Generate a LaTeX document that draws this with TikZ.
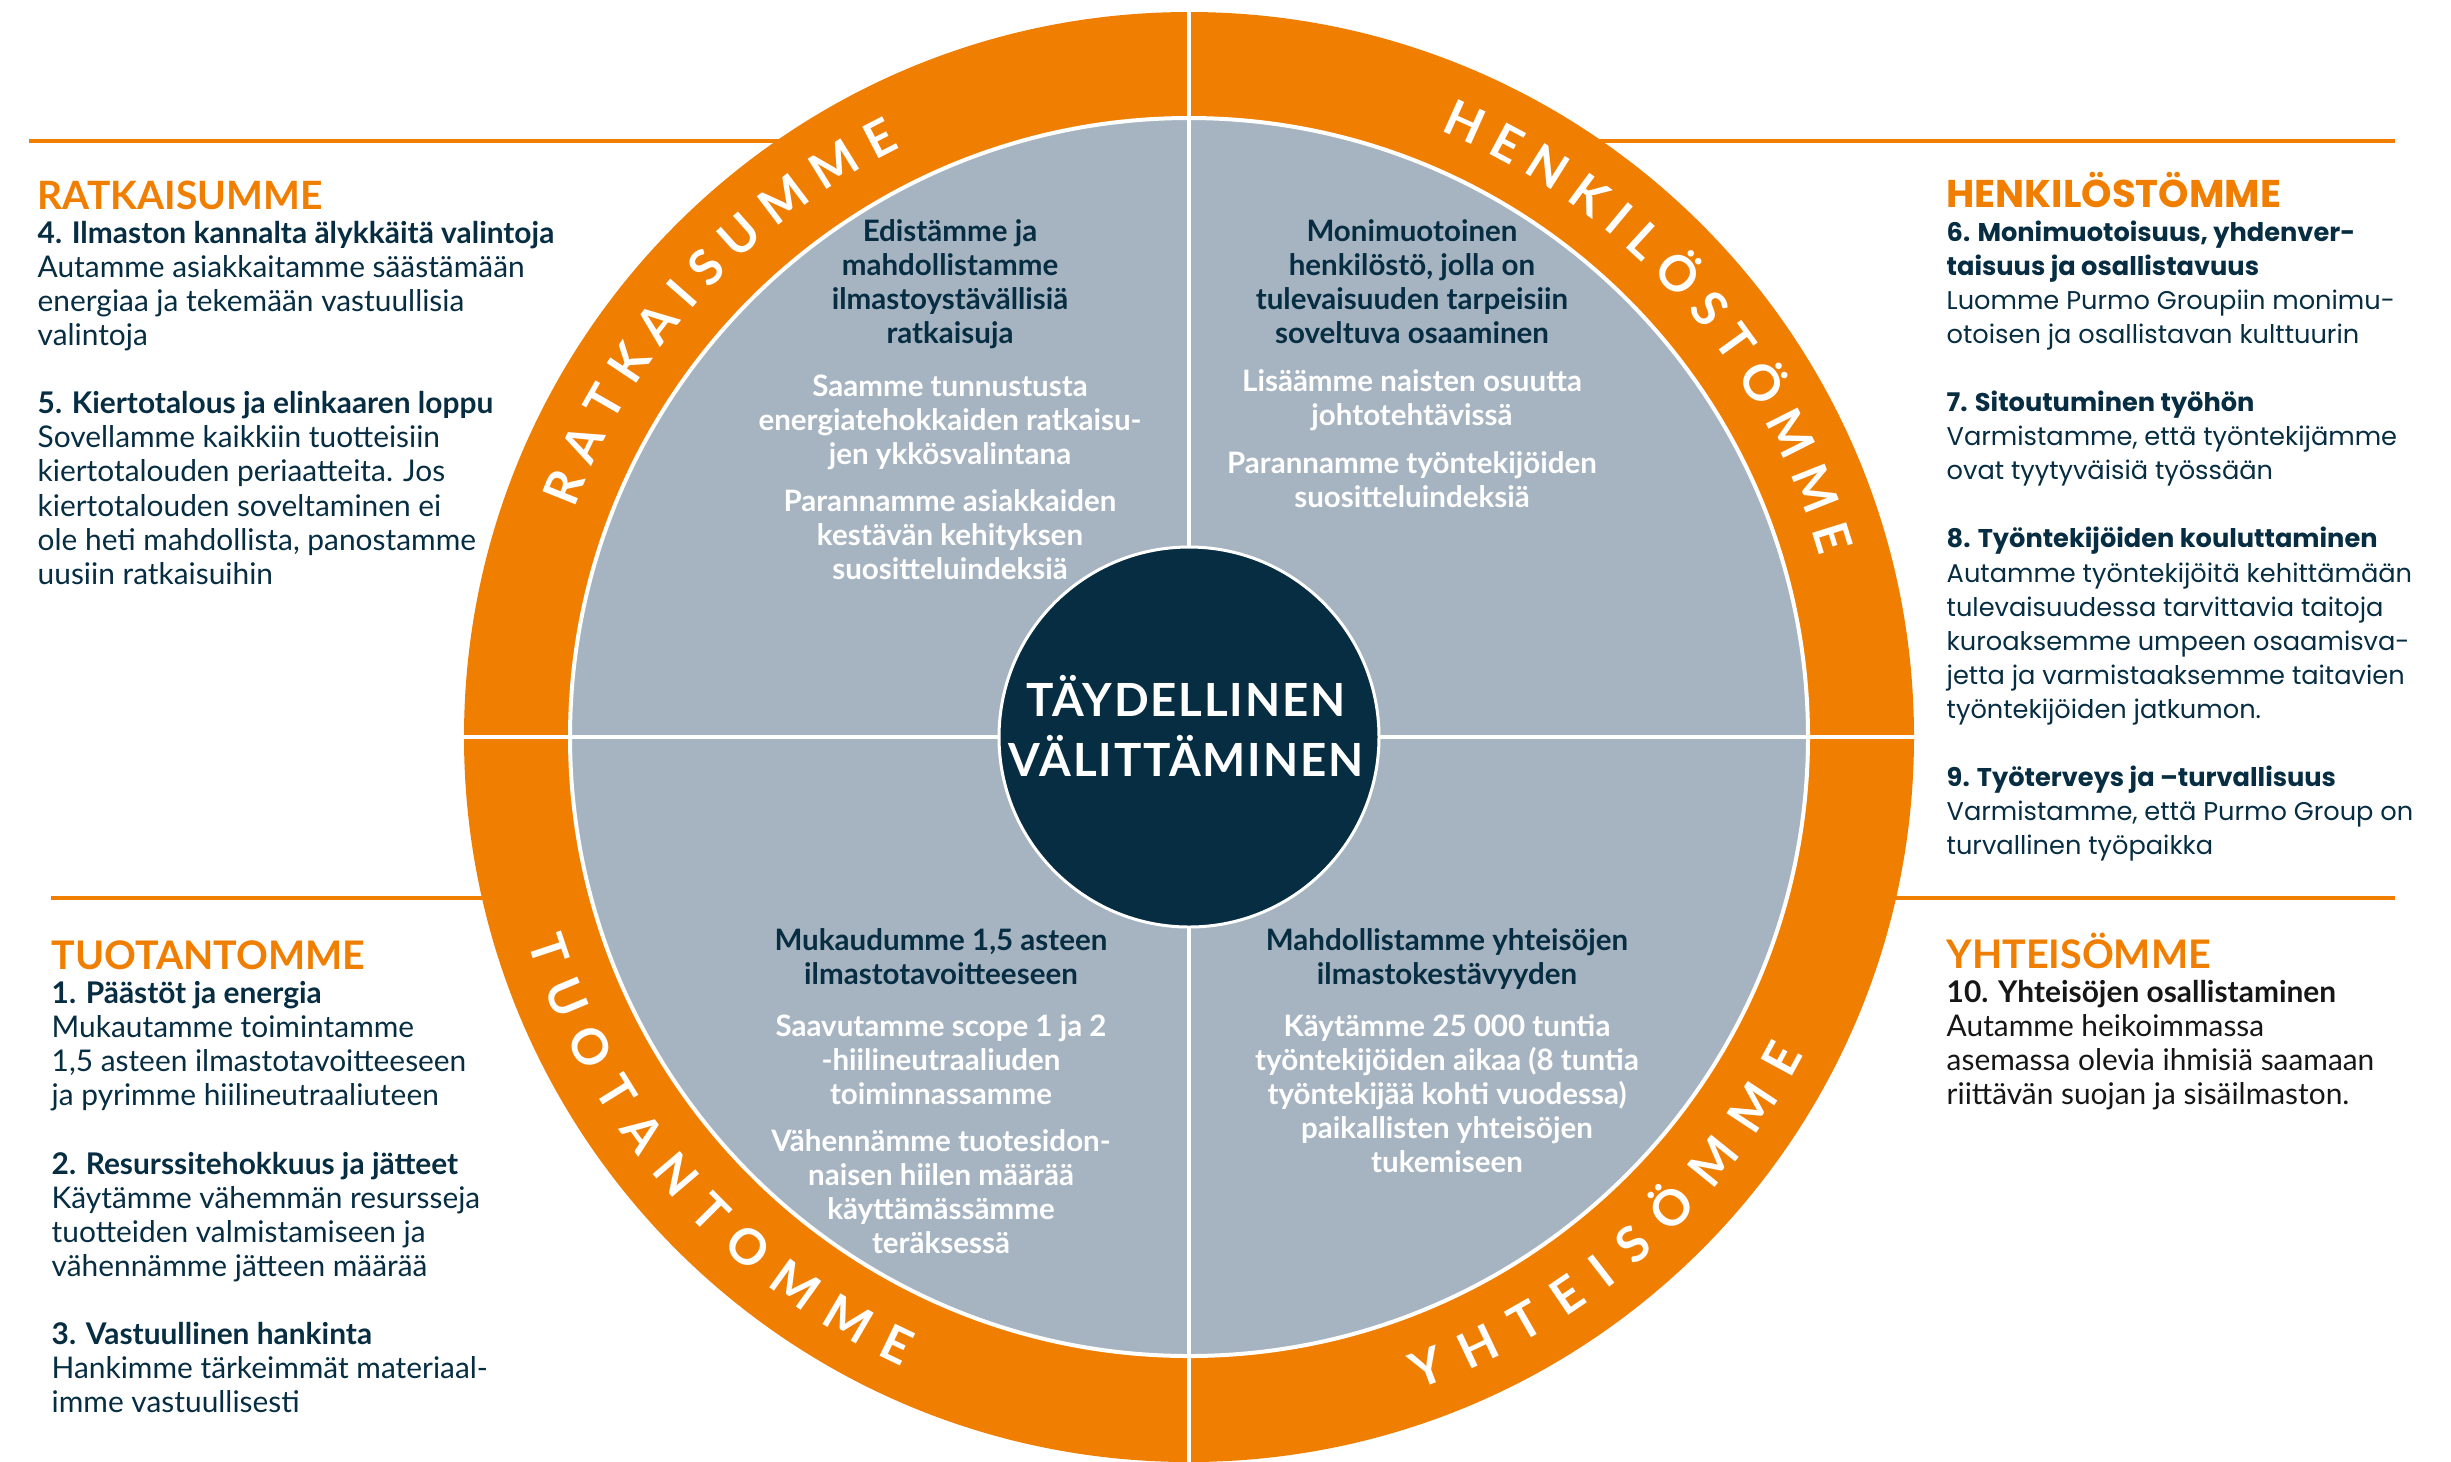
\documentclass[tikz,border=0pt]{standalone}
\usepackage{fontspec}
\setmainfont{Lato}
\newfontfamily\popfont{Poppins}
\usepackage{xcolor}
\usepackage{tikz}
\usetikzlibrary{decorations.text}

\definecolor{ringorange}{HTML}{F07E00}
\definecolor{quadgrey}{HTML}{A6B4C1}
\definecolor{navy}{HTML}{062D42}
\definecolor{inkblack}{HTML}{161616}

\newcommand{\colhead}[2]{{\color{ringorange}\fontsize{#1}{9.7}\selectfont\bfseries #2}}
\newcommand{\ringfont}{\fontsize{14}{16}\selectfont\bfseries}
\newcommand{\quadfont}{\fontsize{8.4}{9.67}\selectfont\bfseries}

\begin{document}
\begin{tikzpicture}[x=0.1mm, y=-0.1mm,
    orangerule/.style={draw=ringorange, line width=0.4mm},
    divider/.style={draw=white, line width=0.4mm},
    textcol/.style={anchor=north west, inner sep=0pt, align=left, text=navy,
        font=\fontsize{8.5}{9.7}\selectfont},
    poptextcol/.style={textcol, font=\popfont\fontsize{7.3}{9.7}\selectfont},
    quadtitle/.style={anchor=north, inner sep=0pt, align=center, text=navy, font=\quadfont},
    quadnote/.style={quadtitle, text=white},
    ringtext/.style={decorate, decoration={text along path, text={|\ringfont|#1},
        text color=white, text align={fit to path}}}
]
    % Page frame and wheel centre
    \useasboundingbox (0,0) rectangle (2451,1461);
    \coordinate (hub) at (1189,737);

    % Orange rules above the columns
    \coordinate (ruletl) at (29,141);
    \coordinate (rulettr) at (2395,141);
    \coordinate (rulebl) at (51,898);
    \coordinate (rulebr) at (2395,898);
    \draw[orangerule] (ruletl) -- (ruletl -| hub);
    \draw[orangerule] (rulettr -| hub) -- (rulettr);
    \draw[orangerule] (rulebl) -- (rulebl -| hub);
    \draw[orangerule] (rulebr -| hub) -- (rulebr);

    % Wheel: orange ring, grey quarters, dark hub
    \fill[ringorange] (hub) circle[radius=725];
    \filldraw[fill=quadgrey, draw=white, line width=0.4mm] (hub) circle[radius=619];
    \coordinate (n) at (1189,12);
    \coordinate (s) at (1189,1462);
    \coordinate (w) at (464,737);
    \coordinate (e) at (1914,737);
    \draw[divider] (n) -- (s);
    \draw[divider] (w) -- (e);
    \node[circle, minimum size=38mm, inner sep=0pt, fill=navy, draw=white, line width=0.3mm] (hubdisk) at (hub) {};
    \node[align=center, text=white, inner sep=0pt,
        font=\fontsize{13}{17.1}\selectfont\bfseries\addfontfeature{LetterSpace=4}] (caretext) at (1186,726)
        {TÄYDELLINEN\\VÄLITTÄMINEN};

    % Words along the ring
    \path[ringtext=RATKAISUMME] (hub) ++(-159.6:656) arc[start angle=-159.6, end angle=-116.1, radius=656];
    \path[ringtext=HENKILÖSTÖMME] (hub) ++(-67.5:656) arc[start angle=-67.5, end angle=-16, radius=656];
    \path[ringtext=TUOTANTOMME] (hub) ++(162.8:692) arc[start angle=162.8, end angle=114.5, radius=692];
    \path[ringtext=YHTEISÖMME] (hub) ++(70.6:692) arc[start angle=70.6, end angle=27.3, radius=692];

    % Quarter texts
    \node[quadtitle] (ultitle) at (950,219) {Edistämme ja\\mahdollistamme\\ilmastoystävällisiä\\ratkaisuja};
    \node[quadnote] (ulnote1) at (950,374) {Saamme tunnustusta\\energiatehokkaiden ratkaisu-\\jen ykkösvalintana};
    \node[quadnote] (ulnote2) at (950,489) {Parannamme asiakkaiden\\kestävän kehityksen\\suositteluindeksiä};

    \node[quadtitle] (urtitle) at (1412,219) {Monimuotoinen\\henkilöstö, jolla on\\tulevaisuuden tarpeisiin\\soveltuva osaaminen};
    \node[quadnote] (urnote1) at (1412,369) {Lisäämme naisten osuutta\\johtotehtävissä};
    \node[quadnote] (urnote2) at (1412,451) {Parannamme työntekijöiden\\suositteluindeksiä};

    \node[quadtitle] (lltitle) at (941,928) {Mukaudumme 1,5 asteen\\ilmastotavoitteeseen};
    \node[quadnote] (llnote1) at (941,1014) {Saavutamme scope 1 ja 2\\-hiilineutraaliuden\\toiminnassamme};
    \node[quadnote] (llnote2) at (941,1129) {Vähennämme tuotesidon-\\naisen hiilen määrää\\käyttämässämme\\teräksessä};

    \node[quadtitle] (lrtitle) at (1447,928) {Mahdollistamme yhteisöjen\\ilmastokestävyyden};
    \node[quadnote] (lrnote1) at (1447,1014) {Käytämme 25 000 tuntia\\työntekijöiden aikaa (8 tuntia\\työntekijää kohti vuodessa)\\paikallisten yhteisöjen\\tukemiseen};

    % Side columns
    \node[textcol] (ratk) at (37,180) {\colhead{11.1}{RATKAISUMME}\\
        {\bfseries 4. Ilmaston kannalta älykkäitä valintoja}\\
        Autamme asiakkaitamme säästämään\\
        energiaa ja tekemään vastuullisia\\
        valintoja\\[9.7pt]
        {\bfseries 5. Kiertotalous ja elinkaaren loppu}\\
        Sovellamme kaikkiin tuotteisiin\\
        kiertotalouden periaatteita. Jos\\
        kiertotalouden soveltaminen ei\\
        ole heti mahdollista, panostamme\\
        uusiin ratkaisuihin};

    \node[poptextcol] (henk) at (1946,171) {\colhead{11}{HENKILÖSTÖMME}\\
        {\bfseries 6. Monimuotoisuus, yhdenver-}\\
        {\bfseries taisuus ja osallistavuus}\\
        Luomme Purmo Groupiin monimu-\\
        otoisen ja osallistavan kulttuurin\\[9.7pt]
        {\bfseries 7. Sitoutuminen työhön}\\
        Varmistamme, että työntekijämme\\
        ovat tyytyväisiä työssään\\[9.7pt]
        {\bfseries 8. Työntekijöiden kouluttaminen}\\
        Autamme työntekijöitä kehittämään\\
        tulevaisuudessa tarvittavia taitoja\\
        kuroaksemme umpeen osaamisva-\\
        jetta ja varmistaaksemme taitavien\\
        työntekijöiden jatkumon.\\[9.7pt]
        {\bfseries 9. Työterveys ja –turvallisuus}\\
        Varmistamme, että Purmo Group on\\
        turvallinen työpaikka};

    \node[textcol] (tuot) at (51,940) {\colhead{11.2}{TUOTANTOMME}\\
        {\bfseries 1. Päästöt ja energia}\\
        Mukautamme toimintamme\\
        1,5 asteen ilmastotavoitteeseen\\
        ja pyrimme hiilineutraaliuteen\\[9.7pt]
        {\bfseries 2. Resurssitehokkuus ja jätteet}\\
        Käytämme vähemmän resursseja\\
        tuotteiden valmistamiseen ja\\
        vähennämme jätteen määrää\\[9.7pt]
        {\bfseries 3. Vastuullinen hankinta}\\
        Hankimme tärkeimmät materiaal-\\
        imme vastuullisesti};

    \node[textcol, text=inkblack] (yht) at (1946,932) {\colhead{11.2}{YHTEISÖMME}\\
        {\bfseries 10. Yhteisöjen osallistaminen}\\
        Autamme heikoimmassa\\
        asemassa olevia ihmisiä saamaan\\
        riittävän suojan ja sisäilmaston.};
\end{tikzpicture}
\end{document}
